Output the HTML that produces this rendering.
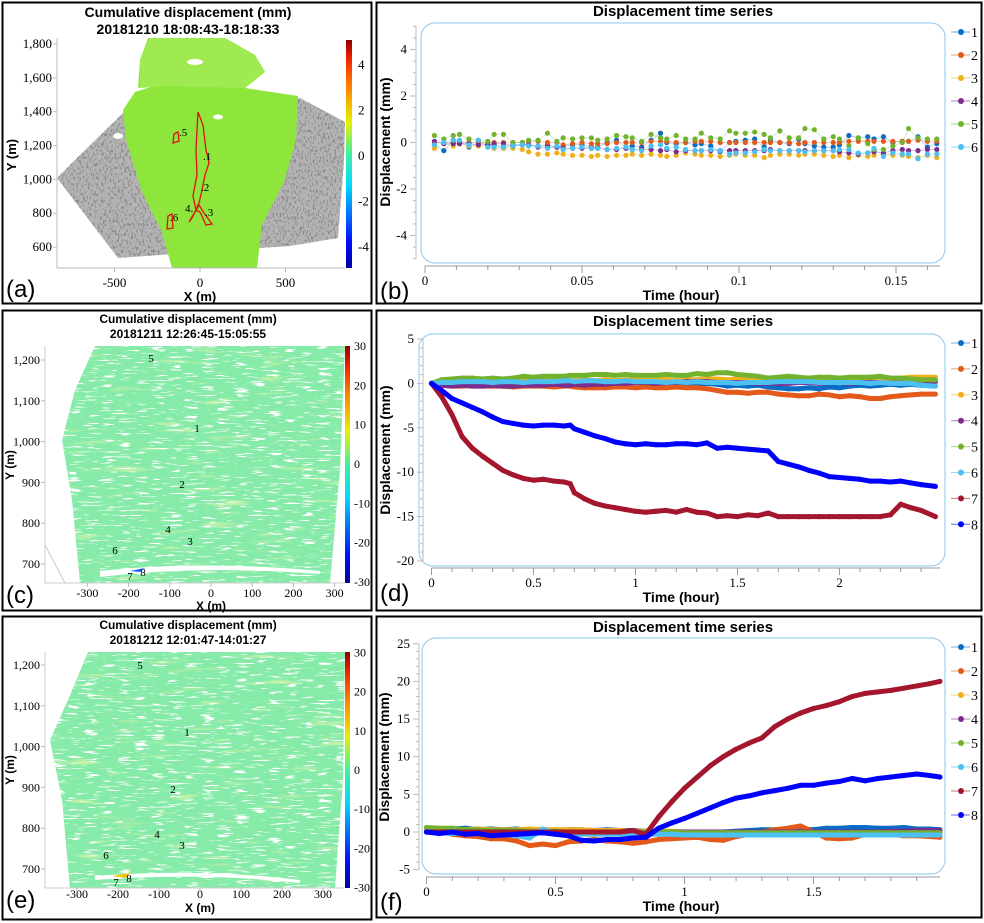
<!DOCTYPE html>
<html><head><meta charset="utf-8">
<style>
html,body{margin:0;padding:0;background:#fff;}
body{width:984px;height:923px;overflow:hidden;position:relative;}
svg{position:absolute;left:0;top:0;}
text{font-family:"Liberation Serif",serif;}
.b{font-family:"Liberation Sans Narrow","Liberation Sans",sans-serif;font-weight:bold;}
.pl{font-family:"Liberation Sans",sans-serif;}
</style></head>
<body>
<svg id="fig" width="984" height="923" viewBox="0 0 984 923" xmlns="http://www.w3.org/2000/svg">
<defs>
<linearGradient id="jet" x1="0" y1="1" x2="0" y2="0">
<stop offset="0" stop-color="#0000a0"/><stop offset="0.12" stop-color="#0010ff"/><stop offset="0.36" stop-color="#00d8ff"/><stop offset="0.5" stop-color="#40f0a0"/><stop offset="0.64" stop-color="#e8f000"/><stop offset="0.8" stop-color="#ff8000"/><stop offset="0.92" stop-color="#f02000"/><stop offset="1" stop-color="#900000"/>
</linearGradient>
<filter id="streak" x="0" y="0" width="100%" height="100%">
<feTurbulence type="fractalNoise" baseFrequency="0.06 0.6" numOctaves="2" seed="3"/>
<feColorMatrix values="0 0 0 0 1  0 0 0 0 1  0 0 0 0 1  -12 0 0 0 4.6"/>
</filter>
<filter id="speck" x="0" y="0" width="100%" height="100%">
<feTurbulence type="fractalNoise" baseFrequency="0.6 0.3" numOctaves="2" seed="7" result="n"/>
<feColorMatrix in="n" values="0 0 0 0 0.25  0 0 0 0 0.25  0 0 0 0 0.25  6 0 0 0 -3.1" result="d"/>
<feComposite in="d" in2="SourceGraphic" operator="in"/>
</filter>
<filter id="tint" x="0" y="0" width="100%" height="100%">
<feTurbulence type="fractalNoise" baseFrequency="0.02 0.15" numOctaves="2" seed="11"/>
<feColorMatrix values="0 0 0 0 0.8  0 0 0 0 0.93  0 0 0 0 0.4  3 0 0 0 -1.9"/>
</filter>
<clipPath id="clipC"><path d="M95,346 L345,346 L340,470 L330,583 L80,583 L72,500 L62,440 L75,390 Z"/></clipPath>
<clipPath id="clipE"><path d="M88,652 L345,652 L343,780 L335,888 L70,888 L62,800 L50,740 L68,700 Z"/></clipPath>
</defs>

<rect x="2.5" y="2.5" width="369" height="301" fill="none" stroke="#000" stroke-width="2"/>
<rect x="376.5" y="2.5" width="605" height="301" fill="none" stroke="#000" stroke-width="2"/>
<rect x="2.5" y="310.5" width="369" height="300" fill="none" stroke="#000" stroke-width="2"/>
<rect x="376.5" y="310.5" width="605" height="300" fill="none" stroke="#000" stroke-width="2"/>
<rect x="2.5" y="616.5" width="369" height="303" fill="none" stroke="#000" stroke-width="2"/>
<rect x="376.5" y="616.5" width="605" height="301" fill="none" stroke="#000" stroke-width="2"/>

<!-- ===== Panel (a) ===== -->
<g>
<text x="188" y="17" text-anchor="middle" font-size="14" class="b">Cumulative displacement (mm)</text>
<text x="188" y="34" text-anchor="middle" font-size="14" class="b">20181210  18:08:43-18:18:33</text>
<path d="M57,178 L80,155 L123,113 L150,108 L170,105 L300,98 L345,122 L344,160 L338,238 L290,246 L200,252 L118,258 Z" fill="#b4b4b4"/>
<path d="M57,178 L80,155 L123,113 L150,108 L170,105 L300,98 L345,122 L344,160 L338,238 L290,246 L200,252 L118,258 Z" fill="#fff" filter="url(#speck)"/>
<path d="M148,38 L225,38 L255,55 L265,72 L245,88 L298,96 L296,140 L284,182 L262,225 L257,268 L172,268 L162,232 L142,192 L126,140 L123,110 L135,92 L160,84 L138,88 L140,60 Z" fill="#8ee63c"/>
<path d="M150,38 L225,38 L255,55 L265,72 L245,88 L165,86 L140,88 L140,60 Z" fill="#9eea50"/>
<ellipse cx="218" cy="117" rx="5" ry="2.5" fill="#fff"/><ellipse cx="118" cy="136" rx="5" ry="3" fill="#fff"/><ellipse cx="195" cy="62" rx="8" ry="3" fill="#fff"/>
<path d="M198,112 L203,125 L206,150 L209,163 L205,175 L202,190 L199,203 L192,218 L189,222 L195,212 L199,205 L204,213 L212,224 L206,225 L200,212 L196,210 L193,196 L197,175 L196,150 L197,130 Z" fill="none" stroke="#e01010" stroke-width="1.3"/>
<path d="M174,134 L178,132 L179,141 L173,143 Z" fill="none" stroke="#e01010" stroke-width="1.3"/>
<path d="M168,216 L172,214 L173,228 L167,229 Z" fill="none" stroke="#e01010" stroke-width="1.3"/>
<g font-size="11" fill="#000">
<text x="179" y="136">.5</text><text x="203" y="160">.1</text><text x="201" y="191">.2</text><text x="185" y="212">4.</text><text x="205" y="216">.3</text><text x="170" y="221">.6</text>
</g>
<line x1="57" y1="38" x2="57" y2="268" stroke="#bbb"/><line x1="57" y1="268" x2="345" y2="268" stroke="#bbb"/>
<rect x="346" y="40" width="6" height="228" fill="url(#jet)"/>
<g id="axA" font-size="12"></g>
<text x="200" y="301" text-anchor="middle" font-size="13" class="b">X (m)</text>
<text transform="translate(16,155) rotate(-90)" text-anchor="middle" font-size="13" class="b">Y (m)</text>
<text x="6" y="297" font-size="24" class="pl">(a)</text>
</g>

<!-- ===== Panel (c) ===== -->
<g>
<text x="188" y="323" text-anchor="middle" font-size="12" class="b">Cumulative displacement (mm)</text>
<text x="188" y="338" text-anchor="middle" font-size="12" class="b">20181211 12:26:45-15:05:55</text>
<g clip-path="url(#clipC)">
<rect x="45" y="346" width="300" height="237" fill="#86eaa8"/>
<rect x="45" y="346" width="300" height="237" filter="url(#tint)"/>
<rect x="45" y="346" width="300" height="237" filter="url(#streak)"/>
<path d="M100,571 Q200,560 320,571 L320,574 Q200,565 100,577 Z" fill="#fff"/>
</g>
<path d="M130,571 L145,568 L140,572 Z" fill="#1060ff"/>
<line x1="45" y1="545" x2="65" y2="583" stroke="#ccc"/>
<g font-size="11"><text x="151" y="362" text-anchor="middle">5</text><text x="197" y="432" text-anchor="middle">1</text><text x="182" y="488" text-anchor="middle">2</text><text x="168" y="533" text-anchor="middle">4</text><text x="190" y="545" text-anchor="middle">3</text><text x="115" y="554" text-anchor="middle">6</text><text x="130" y="580" text-anchor="middle">7</text><text x="143" y="576" text-anchor="middle">8</text></g>
<line x1="45" y1="346" x2="45" y2="583" stroke="#ccc"/><line x1="45" y1="583" x2="345" y2="583" stroke="#ccc"/>
<rect x="345" y="346" width="5" height="237" fill="url(#jet)"/>
<g id="axC" font-size="11.5"></g>
<text x="211" y="610" text-anchor="middle" font-size="12" class="b">X (m)</text>
<text transform="translate(14,465) rotate(-90)" text-anchor="middle" font-size="12" class="b">Y (m)</text>
<text x="6" y="603" font-size="24" class="pl">(c)</text>
</g>

<!-- ===== Panel (e) ===== -->
<g>
<text x="188" y="629" text-anchor="middle" font-size="12" class="b">Cumulative displacement (mm)</text>
<text x="188" y="644" text-anchor="middle" font-size="12" class="b">20181212 12:01:47-14:01:27</text>
<g clip-path="url(#clipE)">
<rect x="45" y="652" width="300" height="236" fill="#86eaa8"/>
<rect x="45" y="652" width="300" height="236" filter="url(#tint)"/>
<rect x="45" y="652" width="300" height="236" filter="url(#streak)"/>
<path d="M95,876 Q200,868 300,880 L300,883 Q200,872 95,880 Z" fill="#fff"/>
</g>
<path d="M112,876 L130,873 L126,878 Z" fill="#f0c000"/>
<g font-size="11"><text x="140" y="669" text-anchor="middle">5</text><text x="187" y="736" text-anchor="middle">1</text><text x="173" y="793" text-anchor="middle">2</text><text x="157" y="838" text-anchor="middle">4</text><text x="182" y="849" text-anchor="middle">3</text><text x="106" y="859" text-anchor="middle">6</text><text x="116" y="886" text-anchor="middle">7</text><text x="129" y="882" text-anchor="middle">8</text></g>
<line x1="45" y1="652" x2="45" y2="888" stroke="#ccc"/><line x1="45" y1="888" x2="345" y2="888" stroke="#ccc"/>
<rect x="345" y="652" width="5" height="236" fill="url(#jet)"/>
<g id="axE" font-size="11.5"></g>
<text x="200" y="912" text-anchor="middle" font-size="12" class="b">X (m)</text>
<text transform="translate(14,770) rotate(-90)" text-anchor="middle" font-size="12" class="b">Y (m)</text>
<text x="6" y="908" font-size="24" class="pl">(e)</text>
</g>

<g id="chartB"></g><g id="chartD"></g><g id="chartF"></g>
</svg>

<script>
// ---------- Panel (b) data ----------
const tB = [0.003,0.006,0.009,0.011,0.014,0.017,0.020,0.022,0.025,0.028,0.031,0.033,0.036,0.039,0.042,0.044,0.047,0.050,0.053,0.055,0.058,0.061,0.064,0.066,0.069,0.072,0.075,0.077,0.080,0.083,0.086,0.088,0.091,0.094,0.097,0.099,0.102,0.105,0.108,0.110,0.113,0.116,0.119,0.121,0.124,0.127,0.130,0.132,0.135,0.138,0.141,0.143,0.146,0.149,0.152,0.154,0.157,0.160,0.163];
const b1 = [-0.1,-0.35,0.1,0.05,-0.2,0,-0.1,-0.1,-0.2,-0.1,-0.1,-0.1,-0.15,-0.1,-0.2,-0.15,-0.1,-0.1,-0.2,-0.2,0,0.1,-0.2,-0.15,-0.2,0.1,0.4,0,-0.05,0,-0.1,-0.05,-0.15,-0.4,0,0.05,0.1,0.15,-0.2,0.1,0,-0.05,0.15,-0.05,-0.15,-0.2,-0.2,-0.1,0.3,0.2,0.25,0.15,0.25,0,0.05,0.05,0.25,-0.2,-0.05];
const b2 = [0,0,0,0,0,0,0,0,0,0,0,0.05,0.05,0,0,-0.1,-0.05,0,-0.05,-0.05,-0.05,0,0,0,0,0.05,0.05,0.05,0,0,0.05,0.05,0.05,0,0,0,0,0,0,0,0,0,-0.05,0,0,0,0,0,0.05,0.05,0.05,0.05,0.05,0.05,0.05,0.05,0.1,0.05,0.05];
const b3 = [-0.25,-0.05,-0.15,-0.05,-0.15,-0.15,-0.2,-0.25,-0.25,-0.25,-0.3,-0.4,-0.5,-0.5,-0.45,-0.5,-0.55,-0.55,-0.6,-0.55,-0.6,-0.55,-0.55,-0.5,-0.55,-0.5,-0.55,-0.6,-0.55,-0.45,-0.5,-0.55,-0.55,-0.6,-0.55,-0.5,-0.55,-0.55,-0.65,-0.55,-0.5,-0.5,-0.55,-0.5,-0.5,-0.55,-0.6,-0.55,-0.65,-0.55,-0.6,-0.55,-0.5,-0.55,-0.55,-0.6,-0.65,-0.55,-0.65];
const b4 = [0.05,-0.05,-0.05,-0.05,-0.05,-0.1,-0.1,-0.05,-0.05,-0.15,-0.1,-0.1,-0.2,-0.2,-0.2,-0.25,-0.25,-0.25,-0.25,-0.25,-0.3,-0.3,-0.25,-0.3,-0.3,-0.3,-0.35,-0.3,-0.4,-0.35,-0.35,-0.35,-0.35,-0.35,-0.35,-0.35,-0.35,-0.35,-0.35,-0.3,-0.35,-0.35,-0.35,-0.35,-0.35,-0.35,-0.35,-0.4,-0.45,-0.5,-0.45,-0.4,-0.45,-0.35,-0.3,-0.35,-0.35,-0.3,-0.3];
const b5 = [0.3,0.15,0.3,0.35,0.15,0.1,0.05,0.35,0.35,0,0,0.1,0.1,0.4,0.05,0.2,0.15,0.2,0.2,0.1,0.15,0.3,0.25,0.2,0.05,0.35,0.2,0.15,0.3,0.15,0.15,0.4,0.2,0.15,0.5,0.4,0.4,0.45,0.35,0.2,0.5,0.2,0.2,0.6,0.55,0.15,0.25,0.15,-0.15,0.2,-0.05,-0.3,-0.3,-0.15,0,0.6,0.2,0.15,0.15];
const b6 = [-0.1,0,0.1,0.1,-0.1,0.1,-0.2,-0.2,-0.2,-0.15,-0.1,-0.15,-0.15,-0.25,-0.15,-0.3,-0.25,-0.2,-0.25,-0.25,-0.3,-0.25,-0.2,-0.3,-0.35,-0.15,-0.1,-0.25,-0.2,-0.3,-0.35,-0.35,-0.3,-0.35,-0.5,-0.45,-0.45,-0.4,-0.3,-0.35,-0.35,-0.35,-0.35,-0.4,-0.35,-0.35,-0.35,-0.3,-0.3,-0.45,-0.45,-0.25,-0.6,-0.45,-0.5,-0.5,-0.7,-0.5,-0.5];
const yTicksB = [-4,-2,0,2,4];
const xTicksB = [0,0.05,0.1,0.15];
const xTickLabelsB = ["0","0.05","0.1","0.15"];

// ---------- Panel (d) data ----------
const tD = [0,0.05,0.1,0.15,0.2,0.25,0.3,0.35,0.4,0.45,0.5,0.55,0.6,0.65,0.68,0.7,0.75,0.8,0.85,0.9,0.95,1,1.05,1.1,1.15,1.2,1.25,1.3,1.35,1.4,1.45,1.5,1.55,1.6,1.65,1.7,1.75,1.8,1.85,1.9,1.95,2,2.05,2.1,2.15,2.2,2.25,2.3,2.35,2.4,2.47];
const d1 = [0,0.2,0.3,0.2,0.3,0.2,0.1,0.2,0.1,0.2,0.1,0.2,0.1,0.2,0.1,0.2,0.1,0.1,0.2,0.1,0,0.1,0,0.1,0,0.1,0,-0.1,0,-0.1,-0.3,-0.2,-0.3,-0.2,-0.4,-0.5,-0.6,-0.6,-0.5,-0.6,-0.4,-0.5,-0.3,-0.2,-0.3,-0.2,-0.1,-0.2,-0.1,-0.2,-0.3];
const d2 = [0,-0.2,-0.3,-0.3,-0.2,-0.3,-0.3,-0.3,-0.4,-0.3,-0.3,-0.3,-0.4,-0.3,-0.3,-0.4,-0.5,-0.5,-0.5,-0.4,-0.4,-0.5,-0.4,-0.5,-0.5,-0.4,-0.5,-0.5,-0.6,-0.8,-1,-1,-1.1,-1,-1,-1.2,-1.3,-1.4,-1.4,-1.2,-1.3,-1.5,-1.4,-1.5,-1.7,-1.7,-1.5,-1.4,-1.3,-1.2,-1.2];
const d3 = [0,0.3,0.3,0.3,0.2,0.3,0.3,0.3,0.2,0.3,0.3,0.3,0.3,0.4,0.3,0.3,0.4,0.3,0.4,0.3,0.4,0.4,0.3,0.4,0.4,0.3,0.4,0.4,0.5,0.5,0.4,0.5,0.4,0.3,0.4,0.4,0.4,0.5,0.4,0.5,0.4,0.5,0.5,0.4,0.5,0.6,0.5,0.6,0.7,0.7,0.7];
const d4 = [0,-0.2,-0.3,-0.2,-0.3,-0.3,-0.2,-0.3,-0.3,-0.2,-0.2,-0.2,-0.1,-0.2,-0.2,-0.1,-0.2,-0.1,-0.1,0,0,0.1,0.1,0,0.1,0.1,0.2,0.2,0.2,0.1,0.1,0.1,0.1,0,0,0,0,0.1,0.1,0,0.1,0.1,0,0.1,0.1,0.1,0,0.1,0.2,0.3,0.2];
const d5 = [0,0.4,0.5,0.6,0.6,0.5,0.6,0.5,0.6,0.8,0.7,0.8,0.8,0.8,0.9,0.9,0.9,1,1,0.9,1,0.9,0.9,0.9,1,0.9,0.9,1.1,1,1.2,1.2,1,0.9,0.8,0.6,0.7,0.8,0.7,0.6,0.7,0.7,0.6,0.7,0.7,0.7,0.8,0.6,0.6,0.5,0.4,0.4];
const d6 = [0,0.1,0.1,0.2,0.2,0.2,0.1,0.2,0.2,0.1,0.2,0.2,0.2,0.3,0.3,0.2,0.3,0.3,0.2,0.2,0.3,0.2,0.2,0.2,0.1,0.2,0.1,0.2,0.1,0.1,0.1,0,0.1,0.1,0.1,0.2,0.2,0.2,0.2,0.1,0.1,0.1,0.1,0.1,0,0.1,0,0,0,-0.2,-0.3];
const d7 = [0,-1.5,-3.5,-6,-7.3,-8.2,-9,-9.8,-10.3,-10.7,-10.9,-10.8,-11,-11.1,-11.3,-12.3,-13,-13.5,-13.8,-14,-14.2,-14.4,-14.5,-14.4,-14.3,-14.5,-14.2,-14.5,-14.6,-15,-14.9,-15,-14.8,-14.9,-14.6,-15,-15,-15,-15,-15,-15,-15,-15,-15,-15,-15,-14.8,-13.6,-14,-14.3,-15];
const d8 = [0,-0.8,-1.7,-2.2,-2.7,-3.2,-3.8,-4.3,-4.5,-4.7,-4.8,-4.7,-4.7,-4.8,-4.7,-5.1,-5.5,-5.9,-6.2,-6.6,-6.8,-6.9,-6.8,-6.9,-6.9,-6.8,-6.8,-6.9,-6.7,-7.3,-7.2,-7.3,-7.4,-7.5,-7.6,-8.8,-9.1,-9.4,-9.8,-10.1,-10.5,-10.6,-10.7,-10.8,-11,-11,-11.1,-11,-11.2,-11.4,-11.6];
const yTicksD = [-20,-15,-10,-5,0,5];
const xTicksD = [0,0.5,1,1.5,2];
const xTickLabelsD = ["0","0.5","1","1.5","2"];

// ---------- Panel (f) data ----------
const tF = [0,0.05,0.1,0.15,0.2,0.25,0.3,0.35,0.4,0.45,0.5,0.55,0.6,0.65,0.7,0.75,0.8,0.85,0.9,0.95,1,1.05,1.1,1.15,1.2,1.25,1.3,1.35,1.4,1.45,1.5,1.55,1.6,1.65,1.7,1.75,1.8,1.85,1.9,1.95,1.99];
const f1 = [0.3,0.3,0.4,0.5,0.3,0.4,0.3,0.4,0.2,0.3,0.2,0.3,0.3,0.2,0.3,0.2,0.2,0.1,0,0,-0.1,0,-0.1,0,0.1,0.2,0.3,0.3,0.4,0.4,0.3,0.5,0.5,0.6,0.6,0.5,0.5,0.6,0.4,0.4,0.3];
const f2 = [0.3,0.2,-0.3,-0.5,-0.6,-0.9,-0.9,-1.2,-1.8,-1.6,-1.8,-1.3,-1.2,-1,-1.2,-1.3,-1.5,-1.3,-1,-0.9,-0.8,-0.7,-1,-1.1,-0.6,-0.3,0,0.3,0.5,0.8,0,-0.8,-0.9,-0.8,-0.3,-0.4,-0.3,-0.5,-0.5,-0.6,-0.7];
const f3 = [0.3,0.3,0.3,0.3,0.4,0.3,0.3,0.3,0.4,0.3,0.3,0.3,0.3,0.2,0.2,0.2,0.1,0.1,0.1,0.1,0,0,0,0,0,0,0,0,0,0,0,0,0,0,0,0,0,0,0,0,0];
const f4 = [0,0,0,0,0,0,0,0,0,0,0,0,0,0,0,0,0,0,0,0,0,0,0,0,0,0,0,0,0,0,0,0,0,0,0,0,0.1,0.1,0.2,0.2,0.2];
const f5 = [0.6,0.5,0.5,0.3,0.3,0.2,0.2,0.2,0.1,0.1,0.1,0,0,0,0,0,0,0,0,0,-0.1,-0.1,-0.1,-0.1,-0.1,-0.1,-0.1,-0.1,-0.1,-0.1,-0.1,-0.1,-0.1,-0.1,-0.1,-0.1,-0.1,-0.1,-0.1,-0.1,-0.1];
const f6 = [0,-0.1,-0.2,-0.1,0,-0.2,-0.3,-0.5,-0.8,0.4,-0.2,-0.3,-0.3,-0.3,-0.3,-0.3,-0.3,-0.3,-0.3,-0.3,-0.4,-0.4,-0.4,-0.4,-0.4,-0.4,-0.4,-0.4,-0.4,-0.4,-0.4,-0.4,-0.4,-0.4,-0.4,-0.4,-0.4,-0.4,-0.4,-0.4,-0.4];
const f7 = [0,0,0,0,0,0,0,0,0,0,0,0,0,0,0,0,0.2,-0.3,2,4,5.8,7.3,8.8,10,11,11.8,12.5,14,15,15.8,16.4,16.8,17.3,18,18.4,18.6,18.8,19.1,19.4,19.7,20];
const f8 = [0,-0.2,0,-0.3,-0.2,-0.5,-0.4,-0.3,-0.2,-0.1,-0.3,-0.5,-1.1,-1.2,-1,-1,-0.8,-0.7,0.5,1.2,1.8,2.5,3.2,3.9,4.5,4.8,5.2,5.5,5.8,6.2,6.2,6.5,6.7,7.1,6.8,7.1,7.3,7.5,7.7,7.5,7.3];
const yTicksF = [-5,0,5,10,15,20,25];
const xTicksF = [0,0.5,1,1.5];
const xTickLabelsF = ["0","0.5","1","1.5"];

const seriesNames = ["1","2","3","4","5","6","7","8"];
const seriesColors = ["#0a6cc4","#e35a1a","#f0b01e","#7b2d8e","#72b22e","#4cc0f0","#a3162e","#0000ff"];

const NS = "http://www.w3.org/2000/svg";
function mk(tag, attrs, parent){ const e=document.createElementNS(NS,tag); for(const k in attrs) e.setAttribute(k,attrs[k]); if(parent) parent.appendChild(e); return e; }
function txt(parent, x, y, s, size, anchor, cls){ const t=mk("text",{x:x,y:y,"font-size":size,"text-anchor":anchor||"start"},parent); if(cls) t.setAttribute("class",cls); t.textContent=s; return t; }

function drawChart(g, cfg){
  const X = t => cfg.x0 + t*cfg.sx;
  const Y = v => cfg.y0 - v*cfg.sy;
  const frame = mk("rect",{x:cfg.box[0],y:cfg.box[1],width:cfg.box[2]-cfg.box[0],height:cfg.box[3]-cfg.box[1],rx:14,fill:"none",stroke:"#9fd0f0","stroke-width":1.2},g);
  
  
  const title = txt(g, cfg.cx, cfg.titleY, "Displacement time series", 15, "middle", "b");
  
  
  const ya = mk("line",{x1:cfg.yAxisX,y1:Y(cfg.yMax),x2:cfg.yAxisX,y2:Y(cfg.yMin),stroke:"#bbb"},g);
  
  
  for(let v=cfg.yMin; v<=cfg.yMax+1e-9; v+=cfg.yMinor){ mk("line",{x1:cfg.yAxisX-(Math.abs(v%cfg.yMajor)<1e-9?6:3),y1:Y(v),x2:cfg.yAxisX,y2:Y(v),stroke:"#bbb"},g); }
  cfg.yTicks.forEach(v=>{ const t=txt(g,cfg.yAxisX-9,Y(v)+4,String(v),13,"end");
    
     });
  const xa = mk("line",{x1:X(0),y1:cfg.xAxisY,x2:cfg.xEnd,y2:cfg.xAxisY,stroke:"#999"},g);
  
  
  for(let t=0; X(t)<=cfg.xEnd+0.5; t+=cfg.xMinor){ const major = cfg.xTicks.some(m=>Math.abs(m-t)<1e-9); mk("line",{x1:X(t),y1:cfg.xAxisY,x2:X(t),y2:cfg.xAxisY+(major?7:4),stroke:"#999"},g); }
  cfg.xTicks.forEach((v,i)=>{ const t=txt(g,X(v),cfg.xAxisY+19,cfg.xTickLabels[i],13,"middle");
    
     });
  const xt = txt(g,cfg.cx-2,cfg.xAxisY+34,"Time (hour)",14,"middle","b");
  
  
  const yt = txt(g,0,0,"Displacement (mm)",14,"middle","b");
  yt.setAttribute("transform","translate("+cfg.yTitleX+","+cfg.yTitleY+") rotate(-90)");
  
  
  const pl = txt(g,380,cfg.xAxisY+33,cfg.label,24,"start","pl");
  
  
  cfg.series.forEach((vals,si)=>{
    const col = seriesColors[si];
    const sg = mk("g",{},g);
    
    
    const pts = vals.map((v,i)=>X(cfg.t[i]).toFixed(1)+","+Y(v).toFixed(1)).join(" ");
    mk("polyline",{points:pts,fill:"none",stroke:col,"stroke-width":cfg.lw,"stroke-linejoin":"round","stroke-opacity":cfg.lineOp},sg);
    vals.forEach((v,i)=>{ const c=mk("circle",{cx:X(cfg.t[i]),cy:Y(v),r:cfg.r,fill:col},sg);
      
       });
  });
  cfg.series.forEach((vals,si)=>{
    const ly = cfg.legY + si*cfg.legStep;
    const lg = mk("g",{},g);
    
    
    mk("line",{x1:951,y1:ly,x2:970,y2:ly,stroke:seriesColors[si],"stroke-width":1,"stroke-opacity":0.6},lg);
    mk("circle",{cx:961,cy:ly,r:3,fill:seriesColors[si]},lg);
    txt(lg,971,ly+5,seriesNames[si],14,"start");
  });
}

drawChart(document.getElementById("chartB"),{x0:425,sx:3140,y0:142.5,sy:23.25,yMin:-5,yMax:5,yMinor:0.5,yMajor:2,yTicks:yTicksB,yAxisX:416,
  xAxisY:266,xEnd:940,xMinor:0.01,xTicks:xTicksB,xTickLabels:xTickLabelsB,box:[421,23,945,263],cx:683,titleY:16,yTitleX:390,yTitleY:142,label:"(b)",
  t:tB,series:[b1,b2,b3,b4,b5,b6],lw:0.8,lineOp:0.35,r:2.6,legY:32,legStep:23});
drawChart(document.getElementById("chartD"),{x0:431.5,sx:204,y0:383.4,sy:8.88,yMin:-20,yMax:5,yMinor:1,yMajor:5,yTicks:yTicksD,yAxisX:423,
  xAxisY:568,xEnd:940,xMinor:0.1,xTicks:xTicksD,xTickLabels:xTickLabelsD,box:[419,334,945,566],cx:683,titleY:326,yTitleX:390,yTitleY:450,label:"(d)",
  t:tD,series:[d1,d2,d3,d4,d5,d6,d7,d8],lw:5,lineOp:1,r:2.6,legY:343,legStep:25.9});
drawChart(document.getElementById("chartF"),{x0:426.5,sx:258,y0:832,sy:7.53,yMin:-5,yMax:25,yMinor:1,yMajor:5,yTicks:yTicksF,yAxisX:419,
  xAxisY:877,xEnd:940,xMinor:0.1,xTicks:xTicksF,xTickLabels:xTickLabelsF,box:[422,638,945,874],cx:683,titleY:632,yTitleX:389,yTitleY:757,label:"(f)",
  t:tF,series:[f1,f2,f3,f4,f5,f6,f7,f8],lw:5,lineOp:1,r:2.6,legY:647,legStep:24});

const aYTicks=[600,800,1000,1200,1400,1600,1800], aXTicks=[-500,0,500], aCb=[-4,-2,0,2,4];
const cYTicks=[700,800,900,1000,1100,1200], cXTicks=[-300,-200,-100,0,100,200,300], cCb=[-30,-20,-10,0,10,20,30];
function fmt(v){ return v>=1000? v.toLocaleString("en-US"):String(v); }
function mapAxes(g, o){
  const X=v=>o.x0+v*o.sx, Y=v=>o.y0-v*o.sy, C=v=>o.c0-v*o.cs;
  o.yt.forEach(v=>{ const t=txt(g,o.axX-5,Y(v)+4,fmt(v),o.fs,"end");
    
    
    mk("line",{x1:o.axX-4,y1:Y(v),x2:o.axX,y2:Y(v),stroke:"#bbb"},g); });
  o.xt.forEach(v=>{ const t=txt(g,X(v),o.xLabY,String(v),o.fs,"middle");
    
    
    mk("line",{x1:X(v),y1:o.axY,x2:X(v),y2:o.axY+4,stroke:"#bbb"},g); });
  o.cb.forEach(v=>{ const t=txt(g,o.cbX,C(v)+4,String(v),o.fs,"start");
    
     });
}
mapAxes(document.getElementById("axA"),{x0:200,sx:0.171,y0:348.6,sy:0.1692,axX:57,axY:268,xLabY:287,yt:aYTicks,xt:aXTicks,cb:aCb,c0:156,cs:22.7,cbX:358,fs:13});
mapAxes(document.getElementById("axC"),{x0:211,sx:0.412,y0:849.6,sy:0.408,axX:45,axY:583,xLabY:597,yt:cYTicks,xt:cXTicks,cb:cCb,c0:464,cs:3.93,cbX:354,fs:12});
mapAxes(document.getElementById("axE"),{x0:200,sx:0.41,y0:1154.6,sy:0.408,axX:45,axY:888,xLabY:898,yt:cYTicks,xt:cXTicks,cb:cCb,c0:770,cs:3.92,cbX:354,fs:12});
</script>
</body></html>
